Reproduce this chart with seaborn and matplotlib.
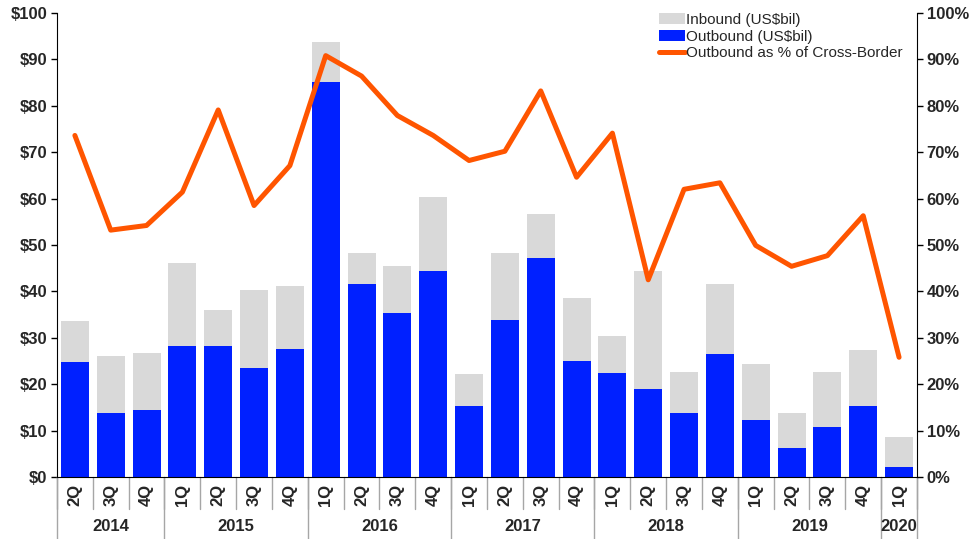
import numpy as np
import pandas as pd
import matplotlib.pyplot as plt
import matplotlib.transforms as mtransforms
from matplotlib.patches import Patch
from matplotlib.lines import Line2D
import seaborn as sns

# データ (US$bil)
quarters = ['2Q', '3Q', '4Q',
            '1Q', '2Q', '3Q', '4Q',
            '1Q', '2Q', '3Q', '4Q',
            '1Q', '2Q', '3Q', '4Q',
            '1Q', '2Q', '3Q', '4Q',
            '1Q', '2Q', '3Q', '4Q',
            '1Q']
years = ['2014', '2015', '2016', '2017', '2018', '2019', '2020']
year_counts = [3, 4, 4, 4, 4, 4, 1]
total_bil = [33.6, 26.1, 26.8, 46.2, 36.0, 40.3, 41.2, 93.8, 48.3, 45.4, 60.3, 22.3,
             48.3, 56.6, 38.6, 30.3, 44.3, 22.6, 41.5, 24.4, 13.9, 22.6, 27.4, 8.7]
outbound_bil = [24.8, 13.9, 14.5, 28.3, 28.3, 23.5, 27.6, 85.1, 41.5, 35.3, 44.4, 15.2,
                33.8, 47.1, 24.9, 22.4, 18.9, 13.9, 26.4, 12.2, 6.3, 10.7, 15.4, 2.2]
outbound_pct = [73.6, 53.2, 54.2, 61.4, 79.1, 58.5, 67.1, 90.8, 86.4, 77.9, 73.6, 68.2,
                70.2, 83.2, 64.6, 74.1, 42.5, 62.0, 63.4, 49.9, 45.4, 47.7, 56.3, 25.8]

GREY = '#D9D9D9'
BLUE = '#0020FF'
ORANGE = '#FF5500'
FS = 12

sns.set_style('white')
plt.rcParams['font.family'] = ['Liberation Sans', 'DejaVu Sans']

df = pd.DataFrame({'idx': range(len(quarters)), 'total': total_bil,
                   'outbound': outbound_bil, 'pct': outbound_pct})

fig = plt.figure(figsize=(9.72, 5.39), dpi=100)
ax = fig.add_axes([0.0586, 0.115, 0.8848, 0.861])

# 積み上げ棒 (灰色=合計, 青=Outbound)
sns.barplot(data=df, x='idx', y='total', color=GREY, width=0.78, saturation=1,
            linewidth=0, ax=ax)
sns.barplot(data=df, x='idx', y='outbound', color=BLUE, width=0.78, saturation=1,
            linewidth=0, ax=ax)

ax.set_ylim(0, 100)
ax.set_xlim(-0.5, len(quarters) - 0.5)
ax.set_yticks(np.arange(0, 101, 10))
ax.set_yticklabels(['${}'.format(v) for v in range(0, 101, 10)], fontsize=FS, fontweight='bold')
ax.set_xticks(range(len(quarters)))
ax.set_xticklabels(quarters, rotation=90, fontsize=FS, fontweight='bold')
ax.tick_params(axis='x', length=0, pad=5)
ax.tick_params(axis='y', direction='out', length=4, width=1, color='black', left=True, pad=3)
ax.set_xlabel('')
ax.set_ylabel('')
for s in ['top', 'right']:
    ax.spines[s].set_visible(False)
ax.spines['left'].set_color('black')
ax.spines['bottom'].set_color('black')

# 折れ線 (右軸)
ax2 = ax.twinx()
sns.lineplot(data=df, x='idx', y='pct', color=ORANGE, linewidth=3.6, ax=ax2)
ax2.set_ylim(0, 100)
ax2.set_yticks(np.arange(0, 101, 10))
ax2.set_yticklabels(['{}%'.format(v) for v in range(0, 101, 10)], fontsize=FS, fontweight='bold')
ax2.tick_params(axis='y', direction='out', length=4, width=1, color='black', right=True, pad=3)
ax2.set_ylabel('')
ax2.set_xlabel('')
for s in ['top', 'left', 'bottom']:
    ax2.spines[s].set_visible(False)
ax2.spines['right'].set_color('black')
ax2.set_xlim(-0.5, len(quarters) - 0.5)

# 区切り線と年ラベル
trans = mtransforms.blended_transform_factory(ax.transData, ax.transAxes)
for i in range(len(quarters) + 1):
    ax.plot([i - 0.5, i - 0.5], [0, -0.068], transform=trans, color='#A6A6A6', lw=1, clip_on=False)
pos = -0.5
for yr, n in zip(years, year_counts):
    ax.plot([pos, pos], [0, -0.135], transform=trans, color='#A6A6A6', lw=1, clip_on=False)
    ax.text(pos + n / 2, -0.107, yr, transform=trans, ha='center', va='center',
            fontsize=FS, fontweight='bold')
    pos += n
ax.plot([pos, pos], [0, -0.135], transform=trans, color='#A6A6A6', lw=1, clip_on=False)

# 凡例
handles = [Patch(facecolor=GREY, edgecolor='none', label='Inbound (US$bil)'),
           Patch(facecolor=BLUE, edgecolor='none', label='Outbound (US$bil)'),
           Line2D([0], [0], color=ORANGE, lw=3.6, label='Outbound as % of Cross-Border')]
ax2.legend(handles=handles, loc='upper right', bbox_to_anchor=(0.994, 1.02), frameon=False,
           fontsize=11, handlelength=1.75, handletextpad=0.05, labelspacing=0.18,
           borderaxespad=0.2)

fig.savefig('out.png', dpi=100)
